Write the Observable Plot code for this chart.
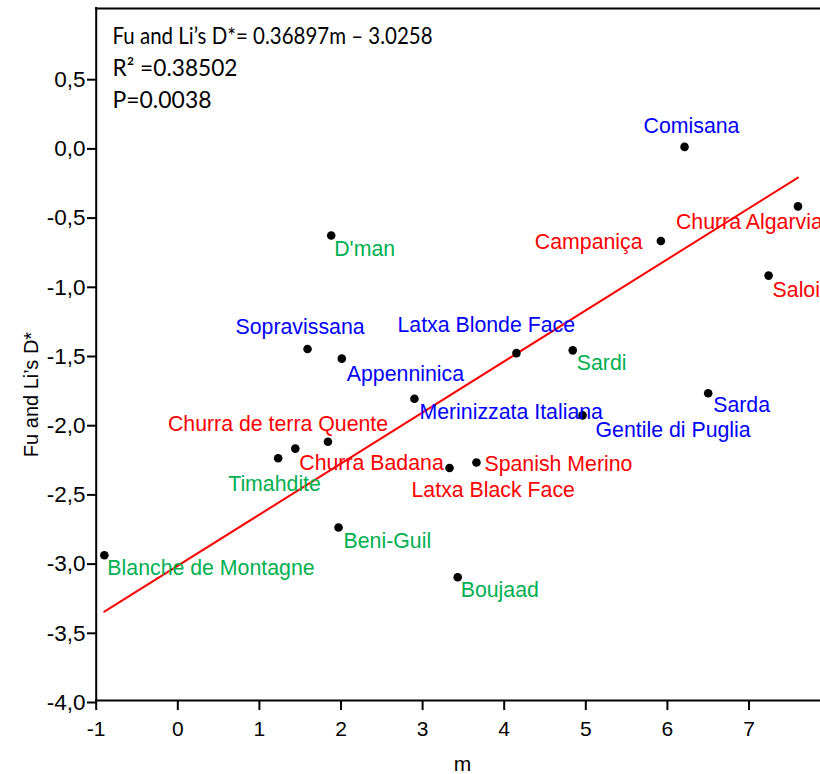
<!DOCTYPE html>
<html>
<head>
<meta charset="utf-8">
<script src="https://cdn.jsdelivr.net/npm/d3@7"></script>
<script src="https://cdn.jsdelivr.net/npm/@observablehq/plot@0.6"></script>
<style>
  html, body { margin: 0; padding: 0; background: #fff; }
  #chart svg { display: block; }
</style>
</head>
<body>
<div id="chart"></div>
<script>
// ---- data ----
const breeds = [
  "Comisana", "Churra Algarvia", "Campaniça", "Saloia", "D'man",
  "Sopravissana", "Appenninica", "Merinizzata Italiana", "Latxa Blonde Face", "Sardi",
  "Gentile di Puglia", "Sarda", "Spanish Merino", "Latxa Black Face", "Boujaad",
  "Timahdite", "Churra Badana", "Churra de terra Quente", "Blanche de Montagne", "Beni-Guil"
];
const mValues = [
  6.21, 7.60, 5.92, 7.24, 1.88,
  1.59, 2.01, 2.90, 4.15, 4.84,
  4.96, 6.50, 3.66, 3.33, 3.43,
  1.23, 1.44, 1.84, -0.90, 1.97
];
const dValues = [
  0.00, -0.43, -0.68, -0.93, -0.64,
  -1.46, -1.53, -1.82, -1.49, -1.47,
  -1.94, -1.78, -2.28, -2.32, -3.11,
  -2.25, -2.18, -2.13, -2.95, -2.75
];
const groups = [
  "blue", "red", "red", "red", "green",
  "blue", "blue", "blue", "blue", "green",
  "blue", "blue", "red", "red", "green",
  "green", "red", "red", "green", "green"
];
const xTicks = [-1, 0, 1, 2, 3, 4, 5, 6, 7];
const yTicks = [0.5, 0.0, -0.5, -1.0, -1.5, -2.0, -2.5, -3.0, -3.5, -4.0];
const slope = 0.36897;
const intercept = -3.0258;
const annotationLines = [
  "Fu and Li\u2019s D*= 0.36897m \u2013 3.0258",
  "R\u00B2 =0.38502",
  "P=0.0038"
];
const xLabel = "m";
const yLabel = "Fu and Li\u2019s D*";

// ---- styling / layout (not data) ----
const groupColors = { blue: "#0000FF", red: "#FF0000", green: "#00B050" };
// label offsets in pixels from each dot: [dx to text start, dy to baseline]
const labelOffsets = {
  "Comisana": [-41, -14],
  "Churra Algarvia": [-122, 23],
  "Campaniça": [-126, 8],
  "Saloia": [4, 21],
  "D'man": [3, 21],
  "Sopravissana": [-72, -15],
  "Appenninica": [5, 22],
  "Merinizzata Italiana": [5, 20],
  "Latxa Blonde Face": [-119, -21],
  "Sardi": [4, 20],
  "Gentile di Puglia": [13, 22],
  "Sarda": [5, 19],
  "Spanish Merino": [8, 9],
  "Latxa Black Face": [-38, 29],
  "Boujaad": [3, 20],
  "Timahdite": [-50, 33],
  "Churra Badana": [4, 21],
  "Churra de terra Quente": [-160, -11],
  "Blanche de Montagne": [3, 20],
  "Beni-Guil": [5, 20]
};
const annotationBaselines = [35.5, 67, 99];
const annotationWidths = [320, 125, 99];

const data = breeds.map((name, i) => ({
  name, m: mValues[i], d: dValues[i], group: groups[i]
}));

const xExtent = d3.extent(mValues);
const fitLine = xExtent.map(x => ({ m: x, d: slope * x + intercept }));

const labelMarks = data.map(p => {
  const [dx, dy] = labelOffsets[p.name];
  return Plot.text([p], {
    x: "m", y: "d", text: "name",
    dx, dy,
    textAnchor: "start", lineAnchor: "bottom",
    fill: groupColors[p.group], fontSize: 21.3
  });
});

const annotationMarks = annotationLines.map((t, i) => Plot.text([t], {
  text: d => d,
  frameAnchor: "top-left",
  dx: 16, dy: annotationBaselines[i],
  textAnchor: "start", lineAnchor: "bottom",
  fontFamily: "Lato, 'Open Sans', sans-serif",
  fontSize: 24, fill: "black"
}));

const chart = Plot.plot({
  width: 820,
  height: 774,
  marginLeft: 96,
  marginRight: 0,
  marginTop: 8,
  marginBottom: 74,
  style: { fontFamily: "'Liberation Sans', Arial, sans-serif", fontSize: "21px", color: "black", background: "white" },
  x: { domain: [-1, 8], range: [95.7, 830.1] },
  y: { domain: [-4, 1] },
  marks: [
    Plot.axisX({ ticks: xTicks, tickSize: 10, tickPadding: 11, strokeWidth: 2, label: null, fontSize: 21, tickFormat: d => String(d) }),
    Plot.axisY({ ticks: yTicks, tickSize: 9, tickPadding: 2, strokeWidth: 2, label: null, fontSize: 22.5, dy: 2,
                 tickFormat: d => d.toFixed(1).replace(".", ",") }),
    Plot.ruleX([-1], { stroke: "black", strokeWidth: 2, strokeLinecap: "square" }),
    Plot.ruleY([-4], { stroke: "black", strokeWidth: 2, strokeLinecap: "square" }),
    Plot.ruleY([1], { stroke: "black", strokeWidth: 2, strokeLinecap: "square" }),
    Plot.line(fitLine, { x: "m", y: "d", stroke: "#FF0000", strokeWidth: 2 }),
    Plot.dot(data, { x: "m", y: "d", r: 4.3, fill: "black", stroke: "none" }),
    ...labelMarks,
    ...annotationMarks,
    Plot.text([yLabel], { text: d => d, frameAnchor: "left", dx: -59, dy: 40, rotate: -90,
                          textAnchor: "middle", lineAnchor: "bottom", fontSize: 20, fill: "black" }),
    Plot.text([xLabel], { text: d => d, frameAnchor: "bottom", dx: 4, dy: 70,
                          textAnchor: "middle", lineAnchor: "bottom", fontSize: 21, fill: "black" })
  ]
});
document.getElementById("chart").appendChild(chart);

// fit the annotation lines to the reference widths (Calibri-like narrow setting)
d3.select(chart).selectAll("text").each(function () {
  const idx = annotationLines.indexOf(this.textContent);
  if (idx >= 0) {
    this.setAttribute("textLength", annotationWidths[idx]);
    this.setAttribute("lengthAdjust", "spacingAndGlyphs");
  }
});
</script>
</body>
</html>
